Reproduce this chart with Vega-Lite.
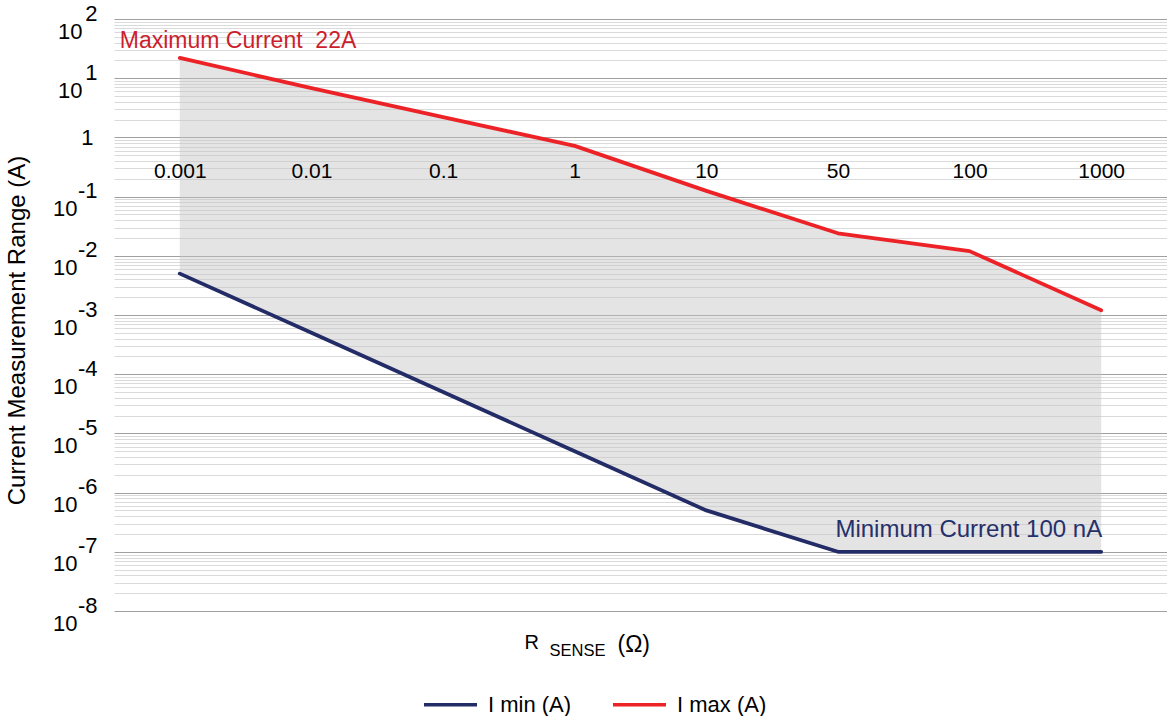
{
  "$schema": "https://vega.github.io/schema/vega-lite/v6.json",
  "width": 1053,
  "height": 592,
  "autosize": {"type": "none"},
  "padding": {"left": 114, "top": 19, "right": 0, "bottom": 105},
  "background": "white",
  "config": {"font": "Liberation Sans", "view": {"stroke": null}},
  "data": {"values": [
    {"R": "0.001", "Imin": 0.005, "Imax": 22},
    {"R": "0.01", "Imin": 0.0005, "Imax": 6.8},
    {"R": "0.1", "Imin": 0.00005, "Imax": 2.2},
    {"R": "1", "Imin": 0.000005, "Imax": 0.72},
    {"R": "10", "Imin": 5e-7, "Imax": 0.125},
    {"R": "50", "Imin": 1e-7, "Imax": 0.024},
    {"R": "100", "Imin": 1e-7, "Imax": 0.012},
    {"R": "1000", "Imin": 1e-7, "Imax": 0.0012}
  ]},
  "resolve": {"axis": {"x": "independent", "y": "independent"}},
  "layer": [
    {
      "mark": {"type": "area", "color": "#c4c4c4", "opacity": 0.45},
      "encoding": {
        "x": {
          "field": "R", "type": "ordinal", "sort": null,
          "scale": {"type": "point", "padding": 0.5},
          "axis": {
            "orient": "bottom", "offset": -474, "domain": false, "ticks": false, "grid": false, "zindex": 1,
            "labelAngle": 0, "labelFontSize": 21, "labelColor": "#000", "labelPadding": 23,
            "title": "R", "titleFontSize": 20, "titleFontWeight": "normal", "titleColor": "#000",
            "titleX": 410, "titleY": 511, "titleAlign": "left", "titleBaseline": "alphabetic"
          }
        },
        "y": {
          "field": "Imin", "type": "quantitative",
          "scale": {"type": "log", "domain": [1e-8, 100], "nice": false},
          "axis": {
            "orient": "left",
            "values": [1e-8, 2e-8, 3e-8, 4e-8, 5e-8, 6e-8, 7e-8, 8e-8, 9e-8,
                       1e-7, 2e-7, 3e-7, 4e-7, 5e-7, 6e-7, 7e-7, 8e-7, 9e-7,
                       1e-6, 2e-6, 3e-6, 4e-6, 5e-6, 6e-6, 7e-6, 8e-6, 9e-6,
                       1e-5, 2e-5, 3e-5, 4e-5, 5e-5, 6e-5, 7e-5, 8e-5, 9e-5,
                       1e-4, 2e-4, 3e-4, 4e-4, 5e-4, 6e-4, 7e-4, 8e-4, 9e-4,
                       0.001, 0.002, 0.003, 0.004, 0.005, 0.006, 0.007, 0.008, 0.009,
                       0.01, 0.02, 0.03, 0.04, 0.05, 0.06, 0.07, 0.08, 0.09,
                       0.1, 0.2, 0.3, 0.4, 0.5, 0.6, 0.7, 0.8, 0.9,
                       1, 2, 3, 4, 5, 6, 7, 8, 9,
                       10, 20, 30, 40, 50, 60, 70, 80, 90, 100],
            "grid": true,
            "gridColor": {"condition": {"test": "abs(log(datum.value)/LN10 - round(log(datum.value)/LN10)) < 0.001", "value": "#a0a0a0"}, "value": "#dadada"},
            "gridWidth": 1,
            "domain": false, "ticks": false,
            "labelOverlap": false, "labelBound": false, "labelFlush": false,
            "labelExpr": "abs(log(datum.value)/LN10 - round(log(datum.value)/LN10)) < 0.001 ? (datum.value == 1 ? '1' : '10') : ''",
            "labelFontSize": 22, "labelColor": "#000",
            "labelPadding": {"condition": [{"test": "datum.value == 1", "value": 21}, {"test": "datum.value > 1", "value": 32}], "value": 37},
            "labelOffset": {"condition": {"test": "datum.value == 1", "value": 0}, "value": 12},
            "title": "Current Measurement Range (A)", "titleFontSize": 24, "titleFontWeight": "normal",
            "titleColor": "#000", "titleX": -97, "titleY": 311, "titleBaseline": "middle", "titleAlign": "center"
          }
        },
        "y2": {"field": "Imax"}
      }
    },
    {
      "transform": [{"fold": ["Imin", "Imax"], "as": ["series", "current"]}],
      "mark": {"type": "line", "strokeWidth": 3.8, "strokeCap": "round", "strokeJoin": "round"},
      "encoding": {
        "x": {
          "field": "R", "type": "ordinal", "sort": null,
          "scale": {"type": "point", "padding": 0.5},
          "axis": {
            "orient": "bottom", "labels": false, "domain": false, "ticks": false, "grid": false,
            "title": "SENSE", "titleFontSize": 16.5, "titleFontWeight": "normal", "titleColor": "#000",
            "titleX": 435, "titleY": 44, "titleAlign": "left", "titleBaseline": "alphabetic"
          }
        },
        "y": {
          "field": "current", "type": "quantitative",
          "scale": {"type": "log", "domain": [1e-8, 100], "nice": false},
          "axis": {
            "orient": "left",
            "values": [1e-8, 1e-7, 1e-6, 1e-5, 1e-4, 0.001, 0.01, 0.1, 10, 100],
            "grid": false, "domain": false, "ticks": false,
            "labelOverlap": false, "labelBound": false, "labelFlush": false,
            "labelExpr": "'' + round(log(datum.value)/LN10)",
            "labelFontSize": 22, "labelColor": "#000", "labelPadding": 17, "labelOffset": -6,
            "title": null
          }
        },
        "color": {
          "field": "series", "type": "nominal",
          "scale": {"domain": ["Imin", "Imax"], "range": ["#232c66", "#ec2227"]},
          "legend": {
            "orient": "none", "direction": "horizontal", "legendX": 308, "legendY": 657,
            "title": null, "symbolType": "stroke", "symbolSize": 2809, "symbolStrokeWidth": 3.5,
            "labelFontSize": 22, "labelColor": "#000", "labelOffset": 9, "columnPadding": 34,
            "labelExpr": "datum.label == 'Imin' ? 'I min (A)' : 'I max (A)'"
          }
        }
      }
    },
    {
      "transform": [{"filter": "datum.R == '0.001'"}],
      "mark": {"type": "text", "align": "left", "baseline": "alphabetic", "dx": -60, "dy": -10, "fontSize": 23, "color": "#cc1f2e", "text": "Maximum Current\u00a0 22A"},
      "encoding": {
        "x": {
          "field": "R", "type": "ordinal", "sort": null,
          "scale": {"type": "point", "padding": 0.5},
          "axis": {
            "orient": "bottom", "labels": false, "domain": false, "ticks": false, "grid": false,
            "title": "(\u03a9)", "titleFontSize": 23, "titleFontWeight": "normal", "titleColor": "#000",
            "titleX": 503, "titleY": 40, "titleAlign": "left", "titleBaseline": "alphabetic"
          }
        },
        "y": {"field": "Imax", "type": "quantitative", "scale": {"type": "log", "domain": [1e-8, 100], "nice": false}, "axis": null}
      }
    },
    {
      "transform": [{"filter": "datum.R == '1000'"}],
      "mark": {"type": "text", "align": "right", "baseline": "alphabetic", "dx": 1, "dy": -15, "fontSize": 24, "color": "#26306b", "text": "Minimum Current 100 nA"},
      "encoding": {
        "x": {"field": "R", "type": "ordinal", "sort": null, "scale": {"type": "point", "padding": 0.5}, "axis": null},
        "y": {"field": "Imin", "type": "quantitative", "scale": {"type": "log", "domain": [1e-8, 100], "nice": false}, "axis": null}
      }
    }
  ]
}
